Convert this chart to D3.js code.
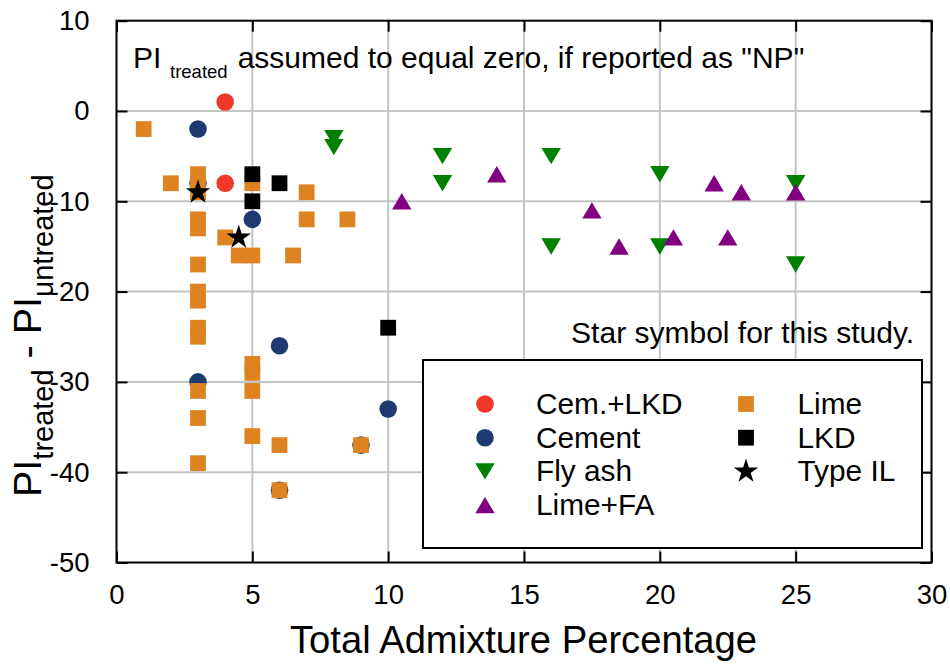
<!DOCTYPE html>
<html>
<head>
<meta charset="utf-8">
<script src="https://cdn.jsdelivr.net/npm/d3@7"></script>
<style>
  body { margin: 0; background: #fff; }
  text { font-family: "Liberation Sans", Arial, sans-serif; fill: #000; }
</style>
</head>
<body>
<div id="chart"></div>
<script>
// data: [admixture %, PI change]
const cemLKD  = [[4, 1], [4, -8]];
const cement  = [[3, -2], [3, -8], [5, -12], [6, -26], [3, -30], [10, -33], [9, -37], [6, -42]];
const flyAsh  = [[8, -3], [8, -4], [12, -5], [12, -8], [16, -5], [16, -15], [20, -7], [20, -15], [25, -8], [25, -17]];
const limeFA  = [[10.5, -10], [14, -7], [17.5, -11], [18.5, -15], [20.5, -14], [22, -8], [22.5, -14], [23, -9], [25, -9]];
const lime    = [[1, -2], [2, -8], [3, -7], [3, -8], [3, -9], [3, -12], [3, -13], [3, -17], [3, -20], [3, -21],
                 [3, -24], [3, -25], [3, -31], [3, -34], [3, -39], [4, -14], [4.5, -16], [5, -16], [5, -8],
                 [6.5, -16], [7, -9], [7, -12], [8.5, -12], [5, -28], [5, -29], [5, -31], [5, -36], [6, -37],
                 [9, -37], [6, -42]];
const lkd     = [[5, -7], [5, -10], [6, -8], [10, -24]];
const typeIL  = [[3, -9], [4.5, -14]];

const xTicks = [0, 5, 10, 15, 20, 25, 30];
const yTicks = [10, 0, -10, -20, -30, -40, -50];
const seriesNames = ["Cem.+LKD", "Cement", "Fly ash", "Lime+FA", "Lime", "LKD", "Type IL"];

// 1. canvas
const W = 950, H = 664;
const margin = {top: 20.7, right: 18.5, bottom: 101.5, left: 116.5};

const svg = d3.select("#chart")
  .append("svg")
    .attr("width", W)
    .attr("height", H);

const x = d3.scaleLinear().domain([0, 30]).range([margin.left, W - margin.right]);
const y = d3.scaleLinear().domain([-50, 10]).range([H - margin.bottom, margin.top]);

// 2. series table (drawing order: lime over cement, LKD over lime, stars on top)
const series = [
  {name: seriesNames[0], data: cemLKD, shape: "circle", color: "#ef3829"},
  {name: seriesNames[1], data: cement, shape: "circle", color: "#1f3a70"},
  {name: seriesNames[2], data: flyAsh, shape: "down",   color: "#008000"},
  {name: seriesNames[3], data: limeFA, shape: "up",     color: "#800080"},
  {name: seriesNames[4], data: lime,   shape: "square", color: "#de8322"},
  {name: seriesNames[5], data: lkd,    shape: "square", color: "#000000"},
  {name: seriesNames[6], data: typeIL, shape: "star",   color: "#000000"}
];

// marker shapes centred on the point
function marker(shape) {
  switch (shape) {
    case "circle": return "M8.8,0A8.8,8.8 0 1,1 -8.8,0A8.8,8.8 0 1,1 8.8,0Z";
    case "square": return "M-7.9,-7.9H7.9V7.9H-7.9Z";
    case "down":   return "M-9.7,-8.2L9.7,-8.2L0,8.2Z";
    case "up":     return "M0,-8.2L9.7,8.2L-9.7,8.2Z";
    case "star":   return d3.symbol(d3.symbolStar, 185)();
  }
}

// 3. grid
const grid = svg.append("g");
grid.selectAll(".gx")
  .data(xTicks.slice(1, -1))
  .enter().append("line")
    .attr("x1", d => x(d)).attr("x2", d => x(d))
    .attr("y1", y(-50)).attr("y2", y(10))
    .attr("stroke", "#c4c4c4").attr("stroke-width", 2);
grid.selectAll(".gy")
  .data(yTicks.slice(1, -1))
  .enter().append("line")
    .attr("y1", d => y(d)).attr("y2", d => y(d))
    .attr("x1", x(0)).attr("x2", x(30))
    .attr("stroke", "#c4c4c4").attr("stroke-width", 2);

// 4. axes, ticks inside on all four sides (plain hyphen for negatives)
const tickLen = 11;
const fmt = d => String(d);
const axisB = d3.axisBottom(x).tickValues(xTicks).tickSizeInner(-tickLen).tickSizeOuter(0).tickPadding(22).tickFormat(fmt);
const axisT = d3.axisTop(x).tickValues(xTicks).tickSizeInner(-tickLen).tickSizeOuter(0).tickFormat("");
const axisL = d3.axisLeft(y).tickValues(yTicks).tickSizeInner(-tickLen).tickSizeOuter(0).tickPadding(27).tickFormat(fmt);
const axisR = d3.axisRight(y).tickValues(yTicks).tickSizeInner(-tickLen).tickSizeOuter(0).tickFormat("");

function styleAxis(g) {
  g.select(".domain").remove();
  g.selectAll(".tick line").attr("stroke", "#000").attr("stroke-width", 2);
  g.selectAll(".tick text").style("font-size", "27.5px").attr("fill", "#000");
}
svg.append("g").attr("transform", `translate(0,${y(-50)})`).call(axisB).call(styleAxis);
svg.append("g").attr("transform", `translate(0,${y(10)})`).call(axisT).call(styleAxis);
svg.append("g").attr("transform", `translate(${x(0)},0)`).call(axisL).call(styleAxis);
svg.append("g").attr("transform", `translate(${x(30)},0)`).call(axisR).call(styleAxis);

svg.append("rect")
  .attr("x", x(0)).attr("y", y(10))
  .attr("width", x(30) - x(0)).attr("height", y(-50) - y(10))
  .attr("fill", "none").attr("stroke", "#000").attr("stroke-width", 2);

// 5. points
series.forEach(s => {
  svg.append("g").selectAll("path")
    .data(s.data)
    .enter().append("path")
      .attr("d", marker(s.shape))
      .attr("transform", d => `translate(${x(d[0])},${y(d[1])})`)
      .attr("fill", s.color);
});

// 6. notes
const note = svg.append("text").attr("y", 67.7).style("font-size", "30px");
note.append("tspan").attr("x", 133).text("PI");
note.append("tspan").attr("x", 170).attr("dy", 10.5).style("font-size", "18.5px").text("treated");
note.append("tspan").attr("x", 237.7).attr("dy", -10.5).text("assumed to equal zero, if reported as \"NP\"");

svg.append("text")
  .attr("x", 914).attr("y", 343)
  .attr("text-anchor", "end")
  .style("font-size", "30px")
  .text("Star symbol for this study.");

// 7. legend
const lg = svg.append("g");
lg.append("rect")
  .attr("x", 423).attr("y", 360).attr("width", 499).attr("height", 188)
  .attr("fill", "#fff").attr("stroke", "#000").attr("stroke-width", 2);

const legendPos = (i) => i < 4
  ? {sx: 485, tx: 536, cy: 404 + i * 33.7}
  : {sx: 746, tx: 797.5, cy: 404 + (i - 4) * 33.7};

series.forEach((s, i) => {
  const p = legendPos(i);
  lg.append("path")
    .attr("d", marker(s.shape))
    .attr("transform", `translate(${p.sx},${p.cy})`)
    .attr("fill", s.color);
  lg.append("text")
    .attr("x", p.tx).attr("y", p.cy + 10)
    .style("font-size", "29.8px")
    .text(s.name);
});

// 8. axis titles
svg.append("text")
  .attr("x", 290).attr("y", 653)
  .style("font-size", "38.2px")
  .text("Total Admixture Percentage");

const yl = svg.append("text")
  .attr("transform", "translate(41,497) rotate(-90)")
  .style("font-size", "39.5px");
yl.append("tspan").text("PI");
yl.append("tspan").attr("dy", 12).style("font-size", "29px").text("treated");
yl.append("tspan").attr("dy", -12).text(" - PI");
yl.append("tspan").attr("dy", 12).style("font-size", "29px").text("untreated");
</script>
</body>
</html>
